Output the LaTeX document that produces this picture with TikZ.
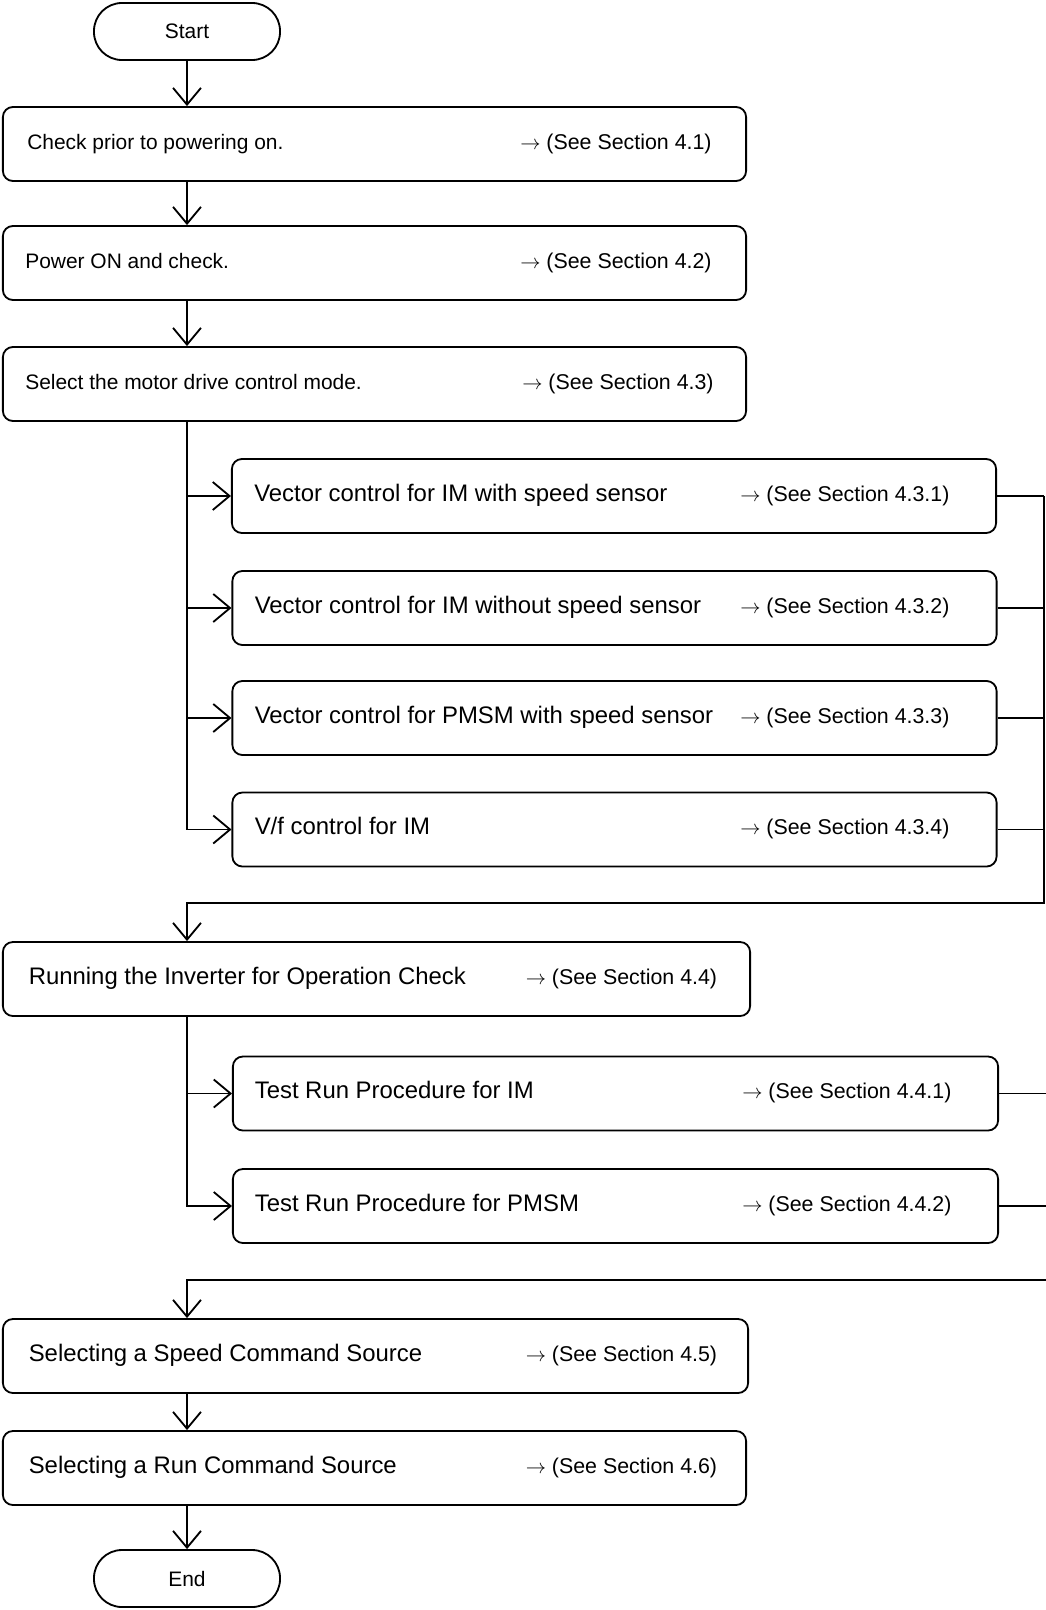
\documentclass[tikz,border=0pt]{standalone}
\usepackage{fontspec}
\setmainfont{Liberation Sans}
\usetikzlibrary{arrows.meta, positioning}
\tikzset{
  stepbox/.style={
    rectangle, rounded corners=0.25cm, draw, line width=1.3pt,
    minimum width=#1, minimum height=1.85cm, inner sep=0pt
  },
  stepbox/.default=18.575cm,
  subbox/.style={stepbox=19.1cm},
  term/.style={
    rectangle, rounded corners=0.7cm, draw, line width=1.3pt,
    minimum width=4.65cm, minimum height=1.425cm,
    font=\fontsize{14.9}{18}\selectfont
  },
  lbl/.style={anchor=west, inner sep=0pt, text height=0.72em, text depth=0pt,
    font=\fontsize{14.9}{18}\selectfont},
  bigLbl/.style={lbl, font=\fontsize{17}{20}\selectfont},
  refLbl/.style={lbl, font=\fontsize{15.2}{18}\selectfont},
  arr/.style={-{Straight Barb[length=0.42cm, width=0.7cm]}, line width=1.3pt},
  link/.style={line width=1.3pt},
}

\begin{document}
\begin{tikzpicture}[x=0.025cm, y=-0.025cm]
\useasboundingbox (0,0) rectangle (1045,1610);

% Terminals
\node[term] at (187,31.5) (start) {Start};
\node[term] at (187,1578.5) (finish) {End};

% First steps
\node[stepbox] at (374.5,144) (check) {};
\node[lbl] at (27,144) (checkTxt) {Check prior to powering on.};
\node[refLbl] at (520,144) (checkRef) {$\rightarrow$ (See Section 4.1)};

\node[stepbox] at (374.5,263) (power) {};
\node[lbl] at (25,263) (powerTxt) {Power ON and check.};
\node[refLbl] at (520,263) (powerRef) {$\rightarrow$ (See Section 4.2)};

\node[stepbox] at (374.5,384) (mode) {};
\node[lbl] at (25,384) (modeTxt) {Select the motor drive control mode.};
\node[refLbl] at (522,384) (modeRef) {$\rightarrow$ (See Section 4.3)};

% Control modes
\node[subbox] at (614,496) (vecS) {};
\node[bigLbl] at (254,496) (vecSTxt) {Vector control for IM with speed sensor};
\node[refLbl] at (740,496) (vecSRef) {$\rightarrow$ (See Section 4.3.1)};

\node[subbox] at (614.5,608) (vecN) {};
\node[bigLbl] at (254.5,608) (vecNTxt) {Vector control for IM without speed sensor};
\node[refLbl] at (740,608) (vecNRef) {$\rightarrow$ (See Section 4.3.2)};

\node[subbox] at (614.5,718) (vecP) {};
\node[bigLbl] at (254.5,718) (vecPTxt) {Vector control for PMSM with speed sensor};
\node[refLbl] at (740,718) (vecPRef) {$\rightarrow$ (See Section 4.3.3)};

\node[subbox] at (614.5,829.5) (vf) {};
\node[bigLbl] at (254.5,829.5) (vfTxt) {V/f control for IM};
\node[refLbl] at (740,829.5) (vfRef) {$\rightarrow$ (See Section 4.3.4)};

% Operation check
\node[stepbox=18.675cm] at (376.5,979) (inv) {};
\node[bigLbl] at (28.5,979) (invTxt) {Running the Inverter for Operation Check};
\node[refLbl] at (525.5,979) (invRef) {$\rightarrow$ (See Section 4.4)};

\node[stepbox=19.125cm] at (615.5,1093.5) (testIM) {};
\node[bigLbl] at (254.5,1093.5) (testIMTxt) {Test Run Procedure for IM};
\node[refLbl] at (742,1093.5) (testIMRef) {$\rightarrow$ (See Section 4.4.1)};

\node[stepbox=19.125cm] at (615.5,1206) (testPM) {};
\node[bigLbl] at (254.5,1206) (testPMTxt) {Test Run Procedure for PMSM};
\node[refLbl] at (742,1206) (testPMRef) {$\rightarrow$ (See Section 4.4.2)};

% Command sources
\node[stepbox=18.625cm] at (375.5,1356) (speed) {};
\node[bigLbl] at (28.5,1356) (speedTxt) {Selecting a Speed Command Source};
\node[refLbl] at (525.5,1356) (speedRef) {$\rightarrow$ (See Section 4.5)};

\node[stepbox] at (374.5,1468) (runCmd) {};
\node[bigLbl] at (28.5,1468) (runCmdTxt) {Selecting a Run Command Source};
\node[refLbl] at (525.5,1468) (runCmdRef) {$\rightarrow$ (See Section 4.6)};

% Helper coordinates
\coordinate (busA) at (1044,0);
\coordinate (busB) at (1046.4,0);
\coordinate (joinA) at (187,903);
\coordinate (joinB) at (187,1280);

% Main flow
\draw[arr] (start.south) -- (start.south |- check.north);
\draw[arr] (check.south -| start) -- (start |- power.north);
\draw[arr] (power.south -| start) -- (start |- mode.north);

% Branch to control modes
\draw[arr] (mode.south -| start) |- (vf.west);
\draw[arr] (start |- vecS.west) -- (vecS.west);
\draw[arr] (start |- vecN.west) -- (vecN.west);
\draw[arr] (start |- vecP.west) -- (vecP.west);
\draw[link] (vecS.east) -- (vecS.east -| busA);
\draw[link] (vecN.east) -- (vecN.east -| busA);
\draw[link] (vecP.east) -- (vecP.east -| busA);
\draw[link] (vf.east) -- (vf.east -| busA);
\draw[arr] (vecS.east -| busA) |- (joinA) -- (joinA |- inv.north);

% Branch to test runs
\draw[arr] (inv.south -| start) |- (testPM.west);
\draw[arr] (start |- testIM.west) -- (testIM.west);
\draw[link] (testIM.east) -- (testIM.east -| busB);
\draw[link] (testPM.east) -- (testPM.east -| busB);
\draw[arr] (testIM.east -| busB) |- (joinB) -- (joinB |- speed.north);

\draw[arr] (speed.south -| start) -- (start |- runCmd.north);
\draw[arr] (runCmd.south -| start) -- (finish.north);

\end{tikzpicture}
\end{document}
